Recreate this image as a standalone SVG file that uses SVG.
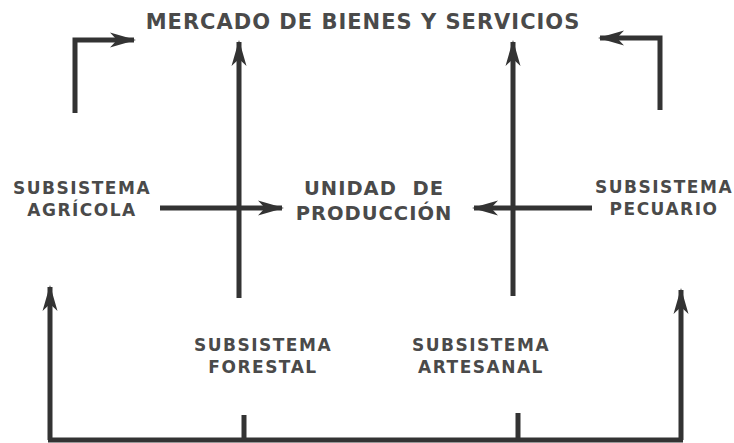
<svg xmlns="http://www.w3.org/2000/svg" width="734" height="443" viewBox="0 0 734 443">
<style>
.t{font-family:"DejaVu Sans","Liberation Sans",sans-serif;font-weight:bold;fill:#4a4a4a;text-anchor:middle}
.s{font-size:17px;letter-spacing:1.5px}
.m{font-size:19.5px;letter-spacing:1px}
.h{font-size:21px;letter-spacing:1px}
.c{stroke:#333;stroke-width:5;fill:none}
</style>
<defs>
<marker id="a" markerUnits="userSpaceOnUse" markerWidth="28" markerHeight="18" refX="24" refY="9" orient="auto">
<path d="M0,1.5 L26,9 L0,16.5 L7,9 z" fill="#333"/>
</marker>
</defs>
<g id="mercado"><text class="t h" x="363" y="29">MERCADO DE BIENES Y SERVICIOS</text></g>
<g id="agricola"><text class="t s" x="82" y="194">SUBSISTEMA</text><text class="t s" x="82" y="216">AGRÍCOLA</text></g>
<g id="unidad"><text class="t m" x="374" y="195">UNIDAD&#160; DE</text><text class="t m" x="374" y="220">PRODUCCIÓN</text></g>
<g id="pecuario"><text class="t s" x="664" y="193">SUBSISTEMA</text><text class="t s" x="664" y="215">PECUARIO</text></g>
<g id="forestal"><text class="t s" x="263" y="351">SUBSISTEMA</text><text class="t s" x="263" y="373">FORESTAL</text></g>
<g id="artesanal"><text class="t s" x="481" y="351">SUBSISTEMA</text><text class="t s" x="481" y="373">ARTESANAL</text></g>
<g id="connectors">
<path class="c" d="M75,113 V40 H134" marker-end="url(#a)"/>
<path class="c" d="M660,110 V38 H600" marker-end="url(#a)"/>
<path class="c" d="M239,298 V42" marker-end="url(#a)"/>
<path class="c" d="M513,296 V42" marker-end="url(#a)"/>
<path class="c" d="M160,208 H282" marker-end="url(#a)"/>
<path class="c" d="M592,208 H474" marker-end="url(#a)"/>
<path class="c" d="M48,440 H683"/>
<path class="c" d="M50,440 V287" marker-end="url(#a)"/>
<path class="c" d="M681,440 V290" marker-end="url(#a)"/>
<path class="c" d="M244,415 V440"/>
<path class="c" d="M518,413 V440"/>
</g>
</svg>
